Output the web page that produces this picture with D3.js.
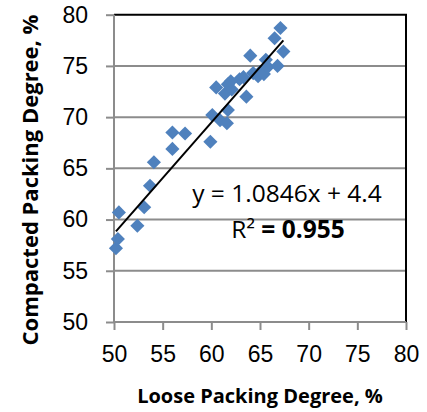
<html>
<head>
<script src="https://d3js.org/d3.v7.min.js"></script>
<style>
  body { margin: 0; background: white; }
  text { font-family: "Open Sans", sans-serif; fill: #000; }
</style>
</head>
<body>
<svg width="427" height="412"></svg>
<script>
// loose packing degree (x) and compacted packing degree (y), %
var loose = [50.2, 50.4, 50.5, 52.4, 53.1, 53.7, 54.1, 56.0, 56.0, 57.3,
             59.9, 60.1, 60.9, 61.6, 61.7, 60.5, 61.4, 61.7, 62.1, 62.9,
             63.6, 64.0, 64.3, 64.8, 65.0, 65.4, 65.6, 65.8, 66.8, 66.5,
             67.1, 67.4, 62.0, 63.3];
var compacted = [57.2, 58.1, 60.7, 59.4, 61.2, 63.3, 65.6, 66.9, 68.5, 68.4,
                 67.6, 70.2, 69.7, 69.4, 70.7, 72.9, 72.3, 73.2, 72.7, 73.7,
                 72.0, 76.0, 74.3, 74.0, 74.4, 74.2, 75.6, 74.9, 75.0, 77.7,
                 78.7, 76.4, 73.5, 73.9];
var xTicks = [50, 55, 60, 65, 70, 75, 80];
var yTicks = [50, 55, 60, 65, 70, 75, 80];
var slope = 1.0846, intercept = 4.4, r2 = "0.955";

var svg = d3.select("svg");
var x = d3.scaleLinear().domain([50, 80]).range([114, 406]);
var y = d3.scaleLinear().domain([50, 80]).range([322, 14.7]);

// gridlines
svg.append("g").selectAll("line").data(yTicks.slice(1, -1)).enter().append("line")
  .attr("x1", x(50)).attr("x2", x(80))
  .attr("y1", d => y(d)).attr("y2", d => y(d))
  .attr("stroke", "#8c8c8c").attr("stroke-width", 2);

// top and right border
svg.append("path")
  .attr("d", "M" + x(50) + "," + y(80) + "H" + x(80) + "V" + y(50))
  .attr("fill", "none").attr("stroke", "#000").attr("stroke-width", 2);

// axes
var xAxis = svg.append("g").attr("transform", "translate(0," + y(50) + ")")
  .call(d3.axisBottom(x).tickValues(xTicks).tickSize(8).tickPadding(16));
var yAxis = svg.append("g").attr("transform", "translate(" + x(50) + ",0)")
  .call(d3.axisLeft(y).tickValues(yTicks).tickSize(8).tickPadding(18));
[xAxis, yAxis].forEach(function(a) {
  a.selectAll("path, line").attr("stroke", "#8c8c8c").attr("stroke-width", 2);
  a.selectAll("text").style("font-family", "Liberation Sans").style("font-size", "23px").attr("fill", "#000");
});
xAxis.select(".domain").attr("d", "M" + x(50) + ",0H" + x(80));
yAxis.select(".domain").attr("d", "M0," + y(50) + "V" + y(80));

// points
svg.append("g").selectAll("path").data(loose).enter().append("path")
  .attr("d", d3.symbol(d3.symbolSquare, 100))
  .attr("transform", (d, i) => "translate(" + x(loose[i]) + "," + y(compacted[i]) + ") rotate(45)")
  .attr("fill", "#4f81bd");

// trendline
var xr = d3.extent(loose);
svg.append("line")
  .attr("x1", x(xr[0])).attr("y1", y(slope * xr[0] + intercept))
  .attr("x2", x(xr[1])).attr("y2", y(slope * xr[1] + intercept))
  .attr("stroke", "#000").attr("stroke-width", 2);

// equation labels
svg.append("text").attr("x", 287).attr("y", 202).attr("text-anchor", "middle")
  .style("font-size", "24.5px").text("y = " + slope + "x + " + intercept);
var rt = svg.append("text").attr("x", 288).attr("y", 238).attr("text-anchor", "middle")
  .style("font-size", "24.5px");
rt.append("tspan").text("R\u00b2 ");
rt.append("tspan").style("font-weight", "bold").text("= " + r2);

// axis titles
svg.append("text").attr("x", 260).attr("y", 403).attr("text-anchor", "middle")
  .style("font-size", "20px").style("font-weight", "bold").text("Loose Packing Degree, %");
svg.append("text").attr("transform", "translate(38,180) rotate(-90)").attr("text-anchor", "middle")
  .style("font-size", "22px").style("font-weight", "bold").text("Compacted Packing Degree, %");
</script>
</body>
</html>
